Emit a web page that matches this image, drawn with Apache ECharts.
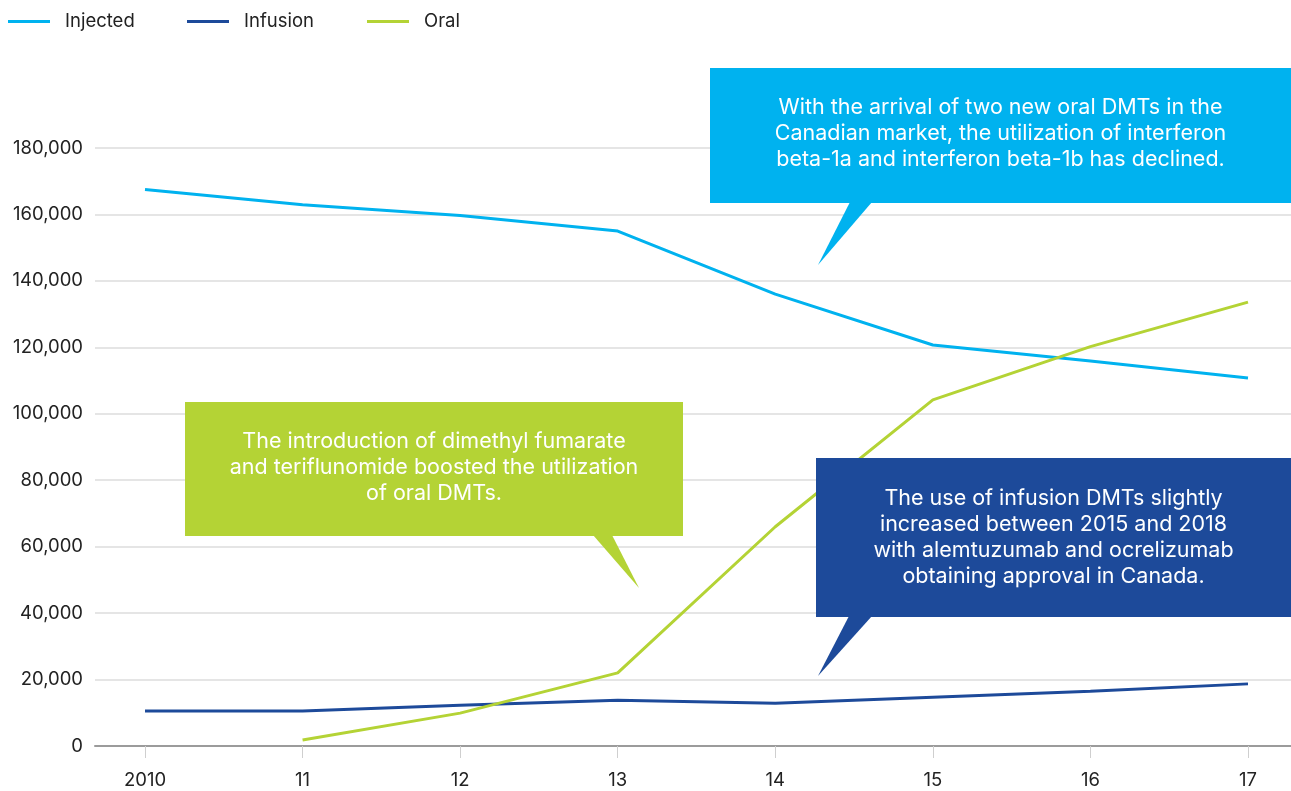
<!DOCTYPE html>
<html>
<head>
<meta charset="utf-8">
<script src="https://cdn.jsdelivr.net/npm/echarts@6/dist/echarts.min.js"></script>
<style>
  html, body { margin: 0; padding: 0; background: #ffffff; }
  #chart { width: 1291px; height: 791px; }
</style>
</head>
<body>
<div id="chart"></div>
<script>
// Categories (years) and series values
const years = ['2010', '11', '12', '13', '14', '15', '16', '17'];
const injected = [167500, 162900, 159700, 155000, 136000, 120700, 115900, 110800];
const infusion = [10500, 10500, 12300, 13800, 12900, 14700, 16500, 18700];
const oral = [null, 1800, 9900, 22000, 66000, 104200, 120200, 133600];

const colors = { Injected: '#00b2ef', Infusion: '#1d4a9a', Oral: '#b4d335' };

// Callout notes
const notes = {
  injected: 'With the arrival of two new oral DMTs in the\nCanadian market, the utilization of interferon\nbeta-1a and interferon beta-1b has declined.',
  oral: 'The introduction of dimethyl fumarate\nand teriflunomide boosted the utilization\nof oral DMTs.',
  infusion: 'The use of infusion DMTs slightly\nincreased between 2015 and 2018\nwith alemtuzumab and ocrelizumab\nobtaining approval in Canada.'
};

const FONT = 'Inter, "Liberation Sans", sans-serif';
const yMax = 180000, yStep = 20000;

function fmt(v) { return String(v).replace(/\B(?=(\d{3})+(?!\d))/g, ','); }

function legendAt(name, left) {
  return {
    data: [name], left: left, top: 12, padding: 0,
    icon: 'rect', itemWidth: 42, itemHeight: 3,
    textStyle: { fontFamily: FONT, fontSize: 18.5, color: '#222', padding: [0, 0, 0, 10] }
  };
}

function callout(box, tri, color, text, textY, fontSize) {
  return [
    { type: 'polygon', z: 100, shape: { points: tri }, style: { fill: color } },
    { type: 'rect', z: 100, shape: box, style: { fill: color } },
    { type: 'text', z: 101, x: box.x + box.width / 2, y: textY,
      style: { text: text, fill: '#ffffff', font: fontSize + 'px ' + FONT,
               textAlign: 'center', textVerticalAlign: 'top', lineHeight: 26 } }
  ];
}

const chart = echarts.init(document.getElementById('chart'), null, { renderer: 'canvas' });

chart.setOption({
  animation: false,
  backgroundColor: '#ffffff',
  legend: [legendAt('Injected', 8), legendAt('Infusion', 187), legendAt('Oral', 367)],
  grid: [
    { left: 95, right: 0, top: 148, bottom: 45 },
    { left: 145, right: 43, top: 148, bottom: 45 }
  ],
  xAxis: [
    { gridIndex: 0, type: 'value', min: 0, max: 1,
      axisLine: { show: true, lineStyle: { color: '#9b9b9b', width: 2 } },
      axisTick: { show: false }, axisLabel: { show: false }, splitLine: { show: false } },
    { gridIndex: 1, type: 'category', data: years, boundaryGap: false,
      axisLine: { show: false },
      axisTick: { show: true, length: 12, lineStyle: { color: '#cfcfcf', width: 1 } },
      axisLabel: { margin: 25, fontFamily: FONT, fontSize: 18.5, color: '#222' },
      splitLine: { show: false } }
  ],
  yAxis: [
    { gridIndex: 0, type: 'value', min: 0, max: yMax, interval: yStep,
      axisLine: { show: false }, axisTick: { show: false },
      axisLabel: { margin: 12, fontFamily: FONT, fontSize: 18.5, color: '#222', formatter: fmt },
      splitLine: { show: true, lineStyle: { color: '#dcdcdc', width: 1.5 } } },
    { gridIndex: 1, type: 'value', min: 0, max: yMax, interval: yStep, show: false,
      splitLine: { show: false } }
  ],
  series: [
    { name: 'Injected', data: injected },
    { name: 'Infusion', data: infusion },
    { name: 'Oral', data: oral }
  ].map(s => ({
    name: s.name, type: 'line', data: s.data, xAxisIndex: 1, yAxisIndex: 1,
    showSymbol: false, symbol: 'none', connectNulls: false,
    color: colors[s.name], lineStyle: { width: 3, color: colors[s.name] }, z: 3
  })),
  graphic: [].concat(
    callout({ x: 710, y: 68, width: 581, height: 135 },
            [[850, 202], [872, 202], [818, 265]], colors.Injected, notes.injected, 95, 21.5),
    callout({ x: 185, y: 402, width: 498, height: 134 },
            [[593, 535], [612, 535], [639, 588]], colors.Oral, notes.oral, 429, 21.5),
    callout({ x: 816, y: 458, width: 475, height: 159 },
            [[849, 616], [872, 616], [818, 676]], colors.Infusion, notes.infusion, 486, 21.5)
  )
});
</script>
</body>
</html>
